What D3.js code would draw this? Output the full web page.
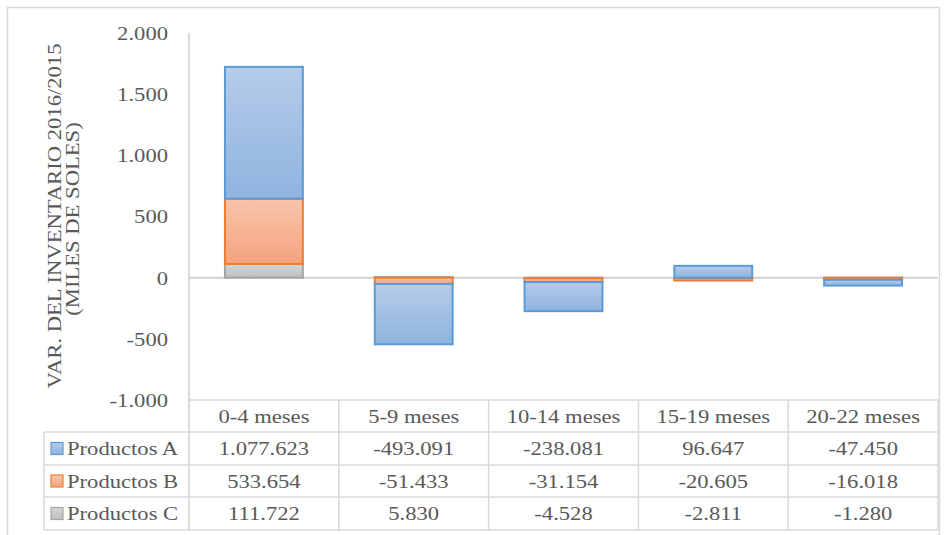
<!DOCTYPE html>
<html>
<head>
<meta charset="utf-8">
<script src="https://cdn.jsdelivr.net/npm/d3@7"></script>
<style>
  html, body { margin: 0; padding: 0; background: #ffffff; }
</style>
</head>
<body>
<svg id="chart" width="947" height="535"></svg>
<script>
// Inventory variation 2016/2015 by age bracket (miles de soles)
const categories = ["0-4 meses", "5-9 meses", "10-14 meses", "15-19 meses", "20-22 meses"];
const seriesNames = ["Productos A", "Productos B", "Productos C"];
const productosA = [1077.623, -493.091, -238.081, 96.647, -47.450];
const productosB = [533.654, -51.433, -31.154, -20.605, -16.018];
const productosC = [111.722, 5.830, -4.528, -2.811, -1.280];
const yTicks = [-1000, -500, 0, 500, 1000, 1500, 2000];
const yTitle = ["VAR. DEL INVENTARIO 2016/2015", "(MILES DE SOLES)"];

const svg = d3.select("#chart");
const FONT = "Liberation Serif, Times New Roman, serif";
const FS = 19.5;      // font size
const SX = 1.16;      // horizontal glyph widening
const TXT = "#595959";

const locale = d3.formatLocale({ decimal: ".", thousands: ".", grouping: [3], currency: ["", ""], minus: "-" });
const fmtVal = locale.format(",.3f");
const fmtTick = locale.format(",.0f");

// Text helper: widened serif text, optionally rotated
function label(parent, x, y, str, anchor, rot = 0) {
  return parent.append("text")
    .attr("transform", `translate(${x},${y}) rotate(${rot}) scale(${SX},1)`)
    .attr("text-anchor", anchor)
    .attr("dy", "0.35em")
    .attr("font-family", FONT)
    .attr("font-size", FS)
    .attr("fill", TXT)
    .text(str);
}

// Outer frame
svg.append("rect").attr("x", 7.5).attr("y", 7.5).attr("width", 932).attr("height", 540)
  .attr("fill", "none").attr("stroke", "#d9d9d9").attr("stroke-width", 1.5);

const plot = { left: 189, right: 938, top: 33, bottom: 400 };

const x = d3.scaleBand().domain(categories).range([plot.left, plot.right]);
const y = d3.scaleLinear().domain([-1000, 2000]).range([plot.bottom, plot.top]);

const rows = categories.map((c, i) => ({
  cat: c,
  "Productos A": productosA[i],
  "Productos B": productosB[i],
  "Productos C": productosC[i]
}));

// Stacking: C nearest the baseline, then B, then A
const stackKeys = ["Productos C", "Productos B", "Productos A"];
const stacked = d3.stack().keys(stackKeys).offset(d3.stackOffsetDiverging)(rows);

const styles = {
  "Productos A": { top: "#b5cce9", bottom: "#8fb3df", stroke: "#5b9bd5" },
  "Productos B": { top: "#f8c4aa", bottom: "#f4a37f", stroke: "#ed7d31" },
  "Productos C": { top: "#d6d6d6", bottom: "#bfbfbf", stroke: "#a5a5a5" }
};

const defs = svg.append("defs");
seriesNames.forEach((s, i) => {
  const g = defs.append("linearGradient").attr("id", "grad" + i)
    .attr("x1", 0).attr("y1", 0).attr("x2", 0).attr("y2", 1);
  g.append("stop").attr("offset", "0%").attr("stop-color", styles[s].top);
  g.append("stop").attr("offset", "100%").attr("stop-color", styles[s].bottom);
});

// Zero line
svg.append("line")
  .attr("x1", plot.left).attr("x2", plot.right)
  .attr("y1", y(0)).attr("y2", y(0))
  .attr("stroke", "#d0d0d0").attr("stroke-width", 2);

// Bars
const barW = x.bandwidth() * 0.52;
stacked.forEach(layer => {
  const s = layer.key;
  const gi = seriesNames.indexOf(s);
  svg.append("g").selectAll("rect").data(layer).join("rect")
    .attr("x", d => x(d.data.cat) + (x.bandwidth() - barW) / 2)
    .attr("y", d => y(Math.max(d[0], d[1])))
    .attr("width", barW)
    .attr("height", d => Math.abs(y(d[0]) - y(d[1])))
    .attr("fill", `url(#grad${gi})`)
    .attr("stroke", styles[s].stroke)
    .attr("stroke-width", 2);
});

// Y axis line and tick labels
svg.append("line").attr("x1", plot.left).attr("x2", plot.left)
  .attr("y1", plot.top).attr("y2", 530)
  .attr("stroke", "#d0d0d0").attr("stroke-width", 1.5);

const tickG = svg.append("g");
yTicks.forEach(t => label(tickG, 168, y(t), fmtTick(t), "end"));

// Axis title (two rotated lines)
const titleG = svg.append("g");
label(titleG, 54, 216, yTitle[0], "middle", -90);
label(titleG, 72, 219, yTitle[1], "middle", -90);

// Data table
const rowY = [400, 432, 465, 497, 530];
const tableLeft = 44;
const grid = svg.append("g").attr("stroke", "#d9d9d9").attr("stroke-width", 1.5);
rowY.forEach((ry, i) => {
  grid.append("line")
    .attr("x1", i === 0 ? plot.left : tableLeft)
    .attr("x2", plot.right).attr("y1", ry).attr("y2", ry);
});
grid.append("line").attr("x1", tableLeft).attr("x2", tableLeft).attr("y1", rowY[1]).attr("y2", rowY[4]);
categories.forEach(c => {
  grid.append("line").attr("x1", x(c) + x.bandwidth()).attr("x2", x(c) + x.bandwidth())
    .attr("y1", rowY[0]).attr("y2", rowY[4]);
});

// Header labels
const headG = svg.append("g");
categories.forEach(c => label(headG, x(c) + x.bandwidth() / 2, (rowY[0] + rowY[1]) / 2, c, "middle"));

// Series rows: legend key, name, values
const tableSeries = [productosA, productosB, productosC];
const bodyG = svg.append("g");
seriesNames.forEach((s, r) => {
  const cy = (rowY[r + 1] + rowY[r + 2]) / 2;
  bodyG.append("rect").attr("x", 51).attr("y", cy - 6).attr("width", 12).attr("height", 12)
    .attr("fill", `url(#grad${r})`).attr("stroke", styles[s].stroke).attr("stroke-width", 1.2);
  label(bodyG, 67, cy, s, "start");
  tableSeries[r].forEach((v, i) => {
    label(bodyG, x(categories[i]) + x.bandwidth() / 2, cy, fmtVal(v), "middle");
  });
});
</script>
</body>
</html>
